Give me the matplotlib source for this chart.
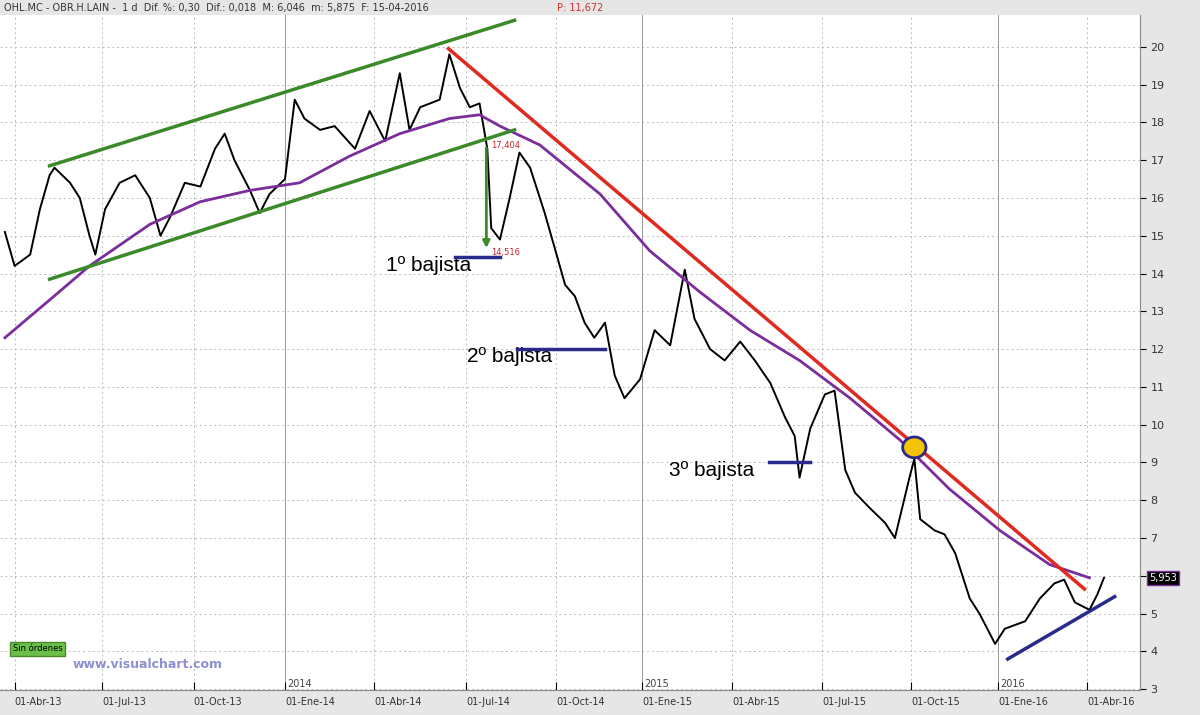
import matplotlib
matplotlib.use("Agg")
import matplotlib.pyplot as plt
from matplotlib.patches import Ellipse
import numpy as np

# Price (close) readings: trading-calendar position (days since 2013-04-01) and values
price_days = [0, 10, 26, 36, 46, 51, 67, 77, 87, 93, 103, 118, 134, 149, 160, 170, 185, 201, 216, 226, 236, 252, 262, 272, 288, 298, 308, 324, 339, 360, 375, 391, 406, 416, 427, 447, 457, 468, 478, 488, 496, 500, 509, 519, 529, 540, 555, 565, 576, 586, 596, 606, 617, 627, 637, 653, 668, 684, 699, 709, 725, 740, 756, 771, 787, 802, 812, 817, 828, 843, 853, 864, 874, 889, 905, 915, 930, 935, 941, 956, 966, 977, 992, 1002, 1018, 1028, 1049, 1064, 1079, 1089, 1100, 1115, 1123, 1130]
price_vals = [15.1, 14.2, 14.5, 15.7, 16.6, 16.8, 16.4, 16.0, 15.0, 14.5, 15.7, 16.4, 16.6, 16.0, 15.0, 15.5, 16.4, 16.3, 17.3, 17.7, 17.0, 16.2, 15.6, 16.1, 16.5, 18.6, 18.1, 17.8, 17.9, 17.3, 18.3, 17.5, 19.3, 17.8, 18.4, 18.6, 19.8, 18.9, 18.4, 18.5, 17.3, 15.2, 14.9, 16.0, 17.2, 16.8, 15.6, 14.7, 13.7, 13.4, 12.7, 12.3, 12.7, 11.3, 10.7, 11.2, 12.5, 12.1, 14.1, 12.8, 12.0, 11.7, 12.2, 11.7, 11.1, 10.2, 9.7, 8.6, 9.9, 10.8, 10.9, 8.8, 8.2, 7.8, 7.4, 7.0, 8.6, 9.1, 7.5, 7.2, 7.1, 6.6, 5.4, 5.0, 4.2, 4.6, 4.8, 5.4, 5.8, 5.9, 5.3, 5.1, 5.5, 5.95]
ma_days = [0, 46, 87, 149, 201, 252, 303, 354, 406, 457, 488, 509, 550, 612, 663, 715, 766, 817, 869, 920, 971, 1023, 1074, 1115]
ma_vals = [12.3, 13.3, 14.2, 15.3, 15.9, 16.2, 16.4, 17.1, 17.7, 18.1, 18.2, 17.9, 17.4, 16.1, 14.6, 13.5, 12.5, 11.7, 10.7, 9.6, 8.3, 7.2, 6.3, 5.95]
y_ticks = list(range(3, 21))
x_tick_labels = ["01-Abr-13", "01-Jul-13", "01-Oct-13", "01-Ene-14", "01-Abr-14", "01-Jul-14",
                 "01-Oct-14", "01-Ene-15", "01-Abr-15", "01-Jul-15", "01-Oct-15", "01-Ene-16", "01-Abr-16"]
tick_x = [10, 100, 194, 288, 380, 474, 567, 655, 748, 840, 932, 1021, 1113]
year_labels = ["2014", "2015", "2016"]
year_x = [288, 655, 1021]

fig = plt.figure(figsize=(12, 7.15), dpi=100, facecolor="#e6e6e6")
ax = fig.add_axes([0.0, 1 - 690/715, 0.95, (690 - 15)/715])
ax.set_facecolor("white")
ax.set_xlim(-5, 1167)
ax.set_ylim(2.98, 20.84)

for y in y_ticks:
    ax.axhline(y, color="#bbbbbb", ls=(0, (2, 3)), lw=0.7, zorder=0)
for x in tick_x:
    ax.axvline(x, color="#bbbbbb", ls=(0, (2, 3)), lw=0.7, zorder=0)
for x in year_x:
    ax.axvline(x, color="#999999", lw=0.7, zorder=0)

ax.plot(price_days, price_vals, color="black", lw=1.4, zorder=3)
ax.plot(ma_days, ma_vals, color="#7b2d9b", lw=2, zorder=4)

# trend lines
ax.plot([46, 524], [16.85, 20.7], color="#3a8a2a", lw=2.5, zorder=5)
ax.plot([46, 524], [13.85, 17.8], color="#3a8a2a", lw=2.5, zorder=5)
ax.plot([456, 1110], [19.95, 5.65], color="#e02a20", lw=2.5, zorder=5)
ax.plot([1031, 1141], [3.8, 5.45], color="#2a2a8a", lw=2.5, zorder=5)
# support segments
ax.plot([463, 509], [14.45, 14.45], color="#2a2a8a", lw=2.5, zorder=5)
ax.plot([527, 617], [12.0, 12.0], color="#2a2a8a", lw=2.5, zorder=5)
ax.plot([786, 828], [9.0, 9.0], color="#2a2a8a", lw=2.5, zorder=5)
ax.annotate("", xy=(495, 14.6), xytext=(495, 17.4),
            arrowprops=dict(arrowstyle="-|>", color="#3a8a2a", lw=2))
ax.text(500, 17.4, "17,404", color="#cc2222", fontsize=6, va="center")
ax.text(500, 14.55, "14,516", color="#cc2222", fontsize=6, va="center")
ax.add_patch(Ellipse((935, 9.4), 24, 0.55, facecolor="#f5c400", edgecolor="#2a2a8a", lw=2, zorder=6))

for tx, ty, s in [(392, 14.2, "1º bajista"), (475, 11.8, "2º bajista"), (683, 8.8, "3º bajista")]:
    ax.text(tx, ty, s, fontsize=15, color="black", va="center", family="Liberation Sans")

for x, s in zip(year_x, year_labels):
    ax.text(x + 2, 3.05, s, fontsize=7, color="#444")
ax.text(8, 4.0, "Sin órdenes", fontsize=6, color="black",
        bbox=dict(boxstyle="square,pad=0.3", facecolor="#6cc04a", edgecolor="#4a8a2a"))
ax.text(70, 3.55, "www.visualchart.com", fontsize=9, color="#8f8fd0", fontweight="bold")

ax.set_xticks(tick_x)
ax.set_xticklabels(x_tick_labels, fontsize=7, color="#333", ha="left")
ax.tick_params(axis="x", direction="in", length=6, pad=5)
ax.yaxis.tick_right()
ax.set_yticks(y_ticks)
ax.set_yticklabels([str(v) for v in y_ticks], fontsize=8, color="#333")
ax.tick_params(axis="y", direction="out", length=4)
for s in ["top", "left"]:
    ax.spines[s].set_visible(False)
ax.spines["right"].set_color("#888")
ax.spines["bottom"].set_color("#888")

ax.text(1.008, (5.953 - 2.98) / (20.84 - 2.98), "5,953", transform=ax.transAxes, fontsize=7,
        color="white", va="center", bbox=dict(boxstyle="square,pad=0.2", facecolor="black", edgecolor="#7b2d9b"))

fig.text(0.003, 1 - 8/715, "OHL.MC - OBR.H.LAIN -  1 d  Dif. %: 0,30  Dif.: 0,018  M: 6,046  m: 5,875  F: 15-04-2016",
         fontsize=7, color="#333", va="center")
fig.text(0.464, 1 - 8/715, "P: 11,672", fontsize=7, color="#d03030", va="center")

fig.savefig("out.png", dpi=100, facecolor=fig.get_facecolor())
